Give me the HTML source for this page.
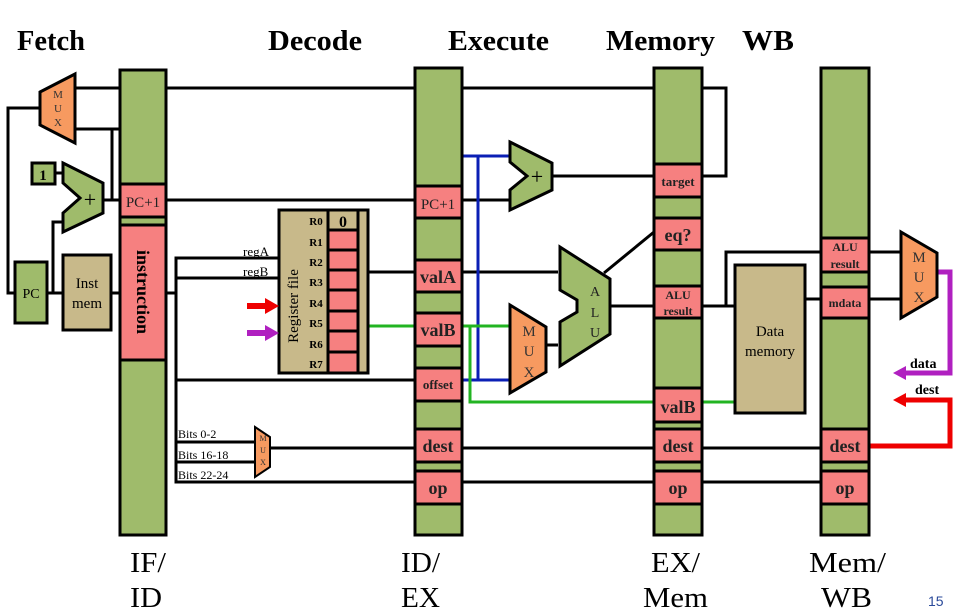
<!DOCTYPE html>
<html><head><meta charset="utf-8"><style>
html,body{margin:0;padding:0;background:#fff;}
svg{display:block;}
text{font-family:"Liberation Serif",serif;}
</style></head><body>
<svg width="958" height="612" viewBox="0 0 958 612" xmlns="http://www.w3.org/2000/svg">
<g font-size="28" fill="#000" font-weight="bold">
<text x="17" y="50" textLength="68" lengthAdjust="spacingAndGlyphs">Fetch</text>
<text x="268" y="50" textLength="94" lengthAdjust="spacingAndGlyphs">Decode</text>
<text x="448" y="50" textLength="101" lengthAdjust="spacingAndGlyphs">Execute</text>
<text x="606" y="50" textLength="109" lengthAdjust="spacingAndGlyphs">Memory</text>
<text x="742" y="50" textLength="52" lengthAdjust="spacingAndGlyphs">WB</text>
</g>
<g font-size="28" fill="#000">
<text x="130" y="572" textLength="36" lengthAdjust="spacingAndGlyphs">IF/</text>
<text x="130" y="607" textLength="32" lengthAdjust="spacingAndGlyphs">ID</text>
<text x="401" y="572" textLength="39" lengthAdjust="spacingAndGlyphs">ID/</text>
<text x="401" y="607" textLength="39" lengthAdjust="spacingAndGlyphs">EX</text>
<text x="651" y="572" textLength="49" lengthAdjust="spacingAndGlyphs">EX/</text>
<text x="643" y="607" textLength="65" lengthAdjust="spacingAndGlyphs">Mem</text>
<text x="809" y="572" textLength="77" lengthAdjust="spacingAndGlyphs">Mem/</text>
<text x="821" y="607" textLength="51" lengthAdjust="spacingAndGlyphs">WB</text>
</g>
<text x="928" y="606" font-size="14" fill="#2a4a9a" style="font-family:'Liberation Sans',sans-serif">15</text>

<g stroke="#000" stroke-width="3" fill="none">
<polyline points="75,88 726,88 726,176 702,176"/>
<polyline points="76,129 120,129"/>
<polyline points="112,129 112,200"/>
<polyline points="104,200 120,200"/>
<polyline points="166,200 415,200"/>
<polyline points="40,108 8,108 8,293 15,293"/>
<polyline points="47,293 63,293"/>
<polyline points="53,293 53,222 63,222"/>
<polyline points="55,173 63,173"/>
<polyline points="111,293 120,293"/>
<polyline points="166,293 176,293"/>
<polyline points="279,258 176,258 176,482 415,482"/>
<polyline points="279,278 176,278"/>
<polyline points="176,380 415,380"/>
<polyline points="176,442 255,442"/>
<polyline points="176,462 255,462"/>
<polyline points="270,448 415,448"/>
<polyline points="462,448 654,448"/>
<polyline points="702,448 821,448"/>
<polyline points="462,482 654,482"/>
<polyline points="702,482 821,482"/>
<polyline points="368,272 415,272"/>
<polyline points="462,272 558,272"/>
<polyline points="462,200 510,200"/>
<polyline points="552,176 654,176"/>
<polyline points="546,345 558,345"/>
<polyline points="604,273 654,232"/>
<polyline points="610,306 654,306"/>
<polyline points="702,306 735,306"/>
<polyline points="726,306 726,252 821,252"/>
<polyline points="805,299 821,299"/>
<polyline points="869,252 901,252"/>
<polyline points="869,299 901,299"/>
</g>
<g stroke="#0b1fb5" stroke-width="3" fill="none">
<polyline points="462,156 510,156"/>
<polyline points="478,156 478,380"/>
<polyline points="462,380 510,380"/>
</g>
<g stroke="#22b422" stroke-width="3" fill="none">
<polyline points="368,326 415,326"/>
<polyline points="462,326 510,326"/>
<polyline points="470,326 470,402 654,402"/>
<polyline points="702,402 735,402"/>
</g>
<polyline points="937,272 950,272 950,373 905,373" stroke="#b020c0" stroke-width="5" fill="none"/>
<polygon points="893,373 906,366 906,380" fill="#b020c0"/>
<polyline points="869,446 950,446 950,400 905,400" stroke="#ee0000" stroke-width="5" fill="none"/>
<polygon points="893,400 906,393 906,407" fill="#ee0000"/>
<text x="910" y="368" font-size="14" font-weight="bold">data</text>
<text x="915" y="394" font-size="14" font-weight="bold">dest</text>

<g stroke="#000" stroke-width="3" fill="#9fbb6b">
<rect x="120" y="70" width="46" height="465"/>
<rect x="415" y="68" width="47" height="467"/>
<rect x="654" y="68" width="48" height="467"/>
<rect x="821" y="68" width="48" height="467"/>
</g>
<g stroke="#000" stroke-width="3" fill="#f68080">
<rect x="120" y="184" width="46" height="33"/>
<rect x="120" y="225" width="46" height="135"/>
<rect x="415" y="186" width="47" height="32"/>
<rect x="415" y="260" width="47" height="32"/>
<rect x="415" y="313" width="47" height="33"/>
<rect x="415" y="368" width="47" height="33"/>
<rect x="415" y="429" width="47" height="33"/>
<rect x="415" y="471" width="47" height="33"/>
<rect x="654" y="164" width="48" height="33"/>
<rect x="654" y="218" width="48" height="32"/>
<rect x="654" y="286" width="48" height="32"/>
<rect x="654" y="388" width="48" height="34"/>
<rect x="654" y="429" width="48" height="33"/>
<rect x="654" y="471" width="48" height="33"/>
<rect x="821" y="238" width="48" height="34"/>
<rect x="821" y="287" width="48" height="31"/>
<rect x="821" y="429" width="48" height="33"/>
<rect x="821" y="471" width="48" height="33"/>
</g>
<g font-weight="bold" text-anchor="middle" fill="#222">
<text x="143" y="207" font-size="15" font-weight="normal">PC+1</text>
<text x="438" y="209" font-size="15" font-weight="normal">PC+1</text>
<text x="438" y="283" font-size="18">valA</text>
<text x="438" y="336" font-size="18">valB</text>
<text x="438" y="389" font-size="13">offset</text>
<text x="438" y="452" font-size="18">dest</text>
<text x="438" y="494" font-size="18">op</text>
<text x="678" y="186" font-size="13">target</text>
<text x="678" y="241" font-size="18">eq?</text>
<text x="678" y="299" font-size="12">ALU</text>
<text x="678" y="315" font-size="12">result</text>
<text x="678" y="413" font-size="18">valB</text>
<text x="678" y="452" font-size="18">dest</text>
<text x="678" y="494" font-size="18">op</text>
<text x="845" y="251" font-size="12">ALU</text>
<text x="845" y="268" font-size="12">result</text>
<text x="845" y="307" font-size="12">mdata</text>
<text x="845" y="452" font-size="18">dest</text>
<text x="845" y="494" font-size="18">op</text>
</g>
<text x="0" y="0" font-size="18" font-weight="bold" text-anchor="middle" transform="translate(137,292) rotate(90)">instruction</text>

<polygon points="40,92 75,74 75,143 40,125" fill="#f79a60" stroke="#000" stroke-width="3"/>
<g font-size="11" text-anchor="middle" fill="#333"><text x="58" y="98">M</text><text x="58" y="112">U</text><text x="58" y="126">X</text></g>
<polygon points="63,163 103,183 103,213 63,232 63,213 80,198 63,183" fill="#9fbb6b" stroke="#000" stroke-width="3"/>
<text x="90" y="207" font-size="22" text-anchor="middle">+</text>
<rect x="32" y="163" width="23" height="21" fill="#9fbb6b" stroke="#000" stroke-width="3"/>
<text x="43" y="180" font-size="15" font-weight="bold" text-anchor="middle">1</text>
<rect x="15" y="262" width="32" height="61" fill="#9fbb6b" stroke="#000" stroke-width="3"/>
<text x="31" y="298" font-size="14" text-anchor="middle">PC</text>
<rect x="63" y="255" width="48" height="75" fill="#c8b98a" stroke="#000" stroke-width="3"/>
<text x="87" y="288" font-size="15" text-anchor="middle">Inst</text>
<text x="87" y="308" font-size="15" text-anchor="middle">mem</text>

<rect x="279" y="210" width="89" height="163" fill="#c8b98a" stroke="#000" stroke-width="3"/>
<line x1="358" y1="210" x2="358" y2="373" stroke="#000" stroke-width="3"/>
<g stroke="#000" stroke-width="3">
<rect x="328" y="210" width="30" height="20" fill="#c8b98a"/>
<rect x="328" y="230" width="30" height="20" fill="#f68080"/>
<rect x="328" y="250" width="30" height="20" fill="#f68080"/>
<rect x="328" y="270" width="30" height="20" fill="#f68080"/>
<rect x="328" y="290" width="30" height="21" fill="#f68080"/>
<rect x="328" y="311" width="30" height="20" fill="#f68080"/>
<rect x="328" y="331" width="30" height="21" fill="#f68080"/>
<rect x="328" y="352" width="30" height="21" fill="#f68080"/>
</g>
<text x="343" y="227" font-size="16" font-weight="bold" text-anchor="middle">0</text>
<g font-size="11" font-weight="bold" text-anchor="middle">
<text x="316" y="225">R0</text><text x="316" y="246">R1</text><text x="316" y="266">R2</text><text x="316" y="286">R3</text><text x="316" y="307">R4</text><text x="316" y="327">R5</text><text x="316" y="348">R6</text><text x="316" y="368">R7</text>
</g>
<text x="0" y="0" font-size="15" text-anchor="middle" transform="translate(298,306) rotate(-90)">Register file</text>
<text x="243" y="256" font-size="13">regA</text>
<text x="243" y="276" font-size="13">regB</text>
<polygon points="247,303 265,303 265,298 279,306 265,314 265,309 247,309" fill="#ee0000"/>
<polygon points="247,330 265,330 265,325 279,333 265,341 265,336 247,336" fill="#b020c0"/>

<g font-size="12"><text x="178" y="438">Bits 0-2</text><text x="178" y="459">Bits 16-18</text><text x="178" y="479">Bits 22-24</text></g>
<polygon points="255,427 270,437 270,467 255,477" fill="#f79a60" stroke="#000" stroke-width="2"/>
<g font-size="8" text-anchor="middle" fill="#333"><text x="263" y="441">M</text><text x="263" y="453">U</text><text x="263" y="465">X</text></g>

<polygon points="510,142 552,163 552,190 510,210 510,190 527,176 510,162" fill="#9fbb6b" stroke="#000" stroke-width="3"/>
<text x="537" y="184" font-size="22" text-anchor="middle">+</text>
<polygon points="510,305 546,327 546,372 510,393" fill="#f79a60" stroke="#000" stroke-width="3"/>
<g font-size="15" text-anchor="middle" fill="#333"><text x="529" y="336">M</text><text x="529" y="356">U</text><text x="529" y="377">X</text></g>
<polygon points="560,247 610,279 610,334 560,366 560,322 577,312 577,300 560,290" fill="#9fbb6b" stroke="#000" stroke-width="3"/>
<g font-size="14" text-anchor="middle" fill="#222"><text x="595" y="296">A</text><text x="595" y="317">L</text><text x="595" y="337">U</text></g>

<rect x="735" y="265" width="70" height="148" fill="#c8b98a" stroke="#000" stroke-width="3"/>
<text x="770" y="336" font-size="15" text-anchor="middle">Data</text>
<text x="770" y="356" font-size="15" text-anchor="middle">memory</text>

<polygon points="901,232 937,253 937,297 901,318" fill="#f79a60" stroke="#000" stroke-width="3"/>
<g font-size="15" text-anchor="middle" fill="#333"><text x="919" y="262">M</text><text x="919" y="282">U</text><text x="919" y="302">X</text></g>
</svg>
</body></html>
